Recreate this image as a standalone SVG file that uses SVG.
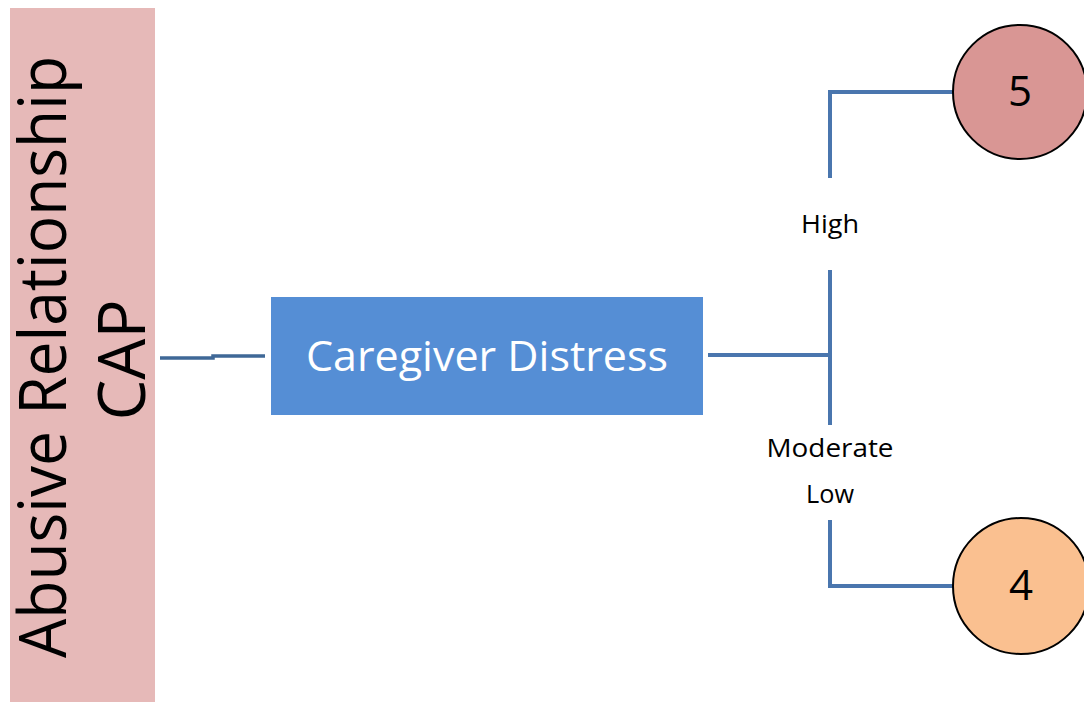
<svg xmlns="http://www.w3.org/2000/svg" width="1084" height="702" viewBox="0 0 1084 702">
<style>
.f{font-family:"Open Sans","Noto Sans","Liberation Sans",sans-serif}
.lbl{font-size:25px;fill:#000;text-anchor:middle}
.num{font-size:42px;fill:#000;text-anchor:middle}
.c{fill:none;stroke:#4A76AE;stroke-width:4}
</style>
<rect width="1084" height="702" fill="#fff"/>
<g id="cap">
<rect x="10" y="8" width="145" height="694" fill="#E6B9B8"/>
<text class="f" transform="translate(66,357) rotate(-90)" font-size="65" text-anchor="middle" textLength="602" lengthAdjust="spacingAndGlyphs">Abusive Relationship</text>
<text class="f" transform="translate(145,360) rotate(-90)" font-size="65" text-anchor="middle">CAP</text>
</g>
<g id="distress">
<rect x="271" y="297" width="432" height="118" fill="#558ED5"/>
<text class="f" x="487" y="371" font-size="42" fill="#fff" text-anchor="middle" textLength="362" lengthAdjust="spacingAndGlyphs">Caregiver Distress</text>
</g>
<g id="connectors">
<path d="M160 358H213V356H265" fill="none" stroke="#3F6897" stroke-width="3.5"/>
<path class="c" d="M708 355H830M830 270V425"/>
<path class="c" d="M830 178V92H955"/>
<path class="c" d="M830 520V586H955"/>
</g>
<g id="labels">
<text class="f lbl" x="830" y="233" textLength="58" lengthAdjust="spacingAndGlyphs">High</text>
<text class="f lbl" x="830" y="457" textLength="127" lengthAdjust="spacingAndGlyphs">Moderate</text>
<text class="f lbl" x="830" y="503" textLength="48" lengthAdjust="spacingAndGlyphs">Low</text>
</g>
<g id="n5">
<circle cx="1020" cy="92" r="67" fill="#D99694" stroke="#000" stroke-width="2"/>
<text class="f num" x="1020" y="106">5</text>
</g>
<g id="n4">
<circle cx="1021" cy="586" r="68" fill="#FAC090" stroke="#000" stroke-width="2"/>
<text class="f num" x="1021" y="600">4</text>
</g>
</svg>
